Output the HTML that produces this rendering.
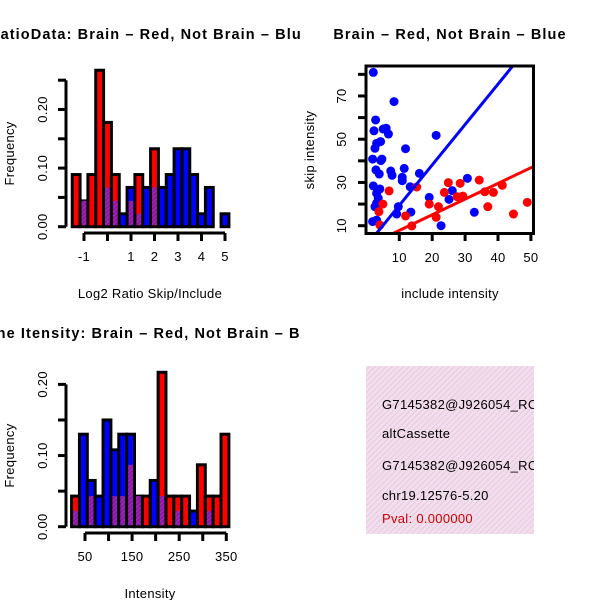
<!DOCTYPE html>
<html><head><meta charset="utf-8"><style>
html,body{margin:0;padding:0;background:#fff}
svg{display:block;font-family:"Liberation Sans",sans-serif}
svg text{letter-spacing:0.3px}
svg text.ttl{letter-spacing:1.1px}
</style></head><body>
<svg id="chart" width="600" height="600" viewBox="0 0 600 600" xmlns="http://www.w3.org/2000/svg">
<defs>
<pattern id="hatch" width="3" height="3" patternUnits="userSpaceOnUse" patternTransform="rotate(45)">
<rect width="3" height="3" fill="#a020c0"/><rect width="1.2" height="3" fill="#7a1a8a"/>
</pattern>
<pattern id="pinkhatch" width="4" height="4" patternUnits="userSpaceOnUse" patternTransform="rotate(45)">
<rect width="4" height="4" fill="#f6dcf0"/><rect width="1" height="4" fill="#dcd0d4"/>
</pattern>
<clipPath id="clipTL"><rect x="0" y="0" width="300" height="300"/></clipPath>
<clipPath id="clipBL"><rect x="0" y="300" width="300" height="300"/></clipPath>
<clipPath id="clipSc"><rect x="366" y="66" width="168" height="168"/></clipPath>
<clipPath id="clipBox"><rect x="366" y="366" width="168" height="168"/></clipPath>
</defs>
</svg>
<script>
// ---- Data: top-left histogram (Log2 ratio), bins of width 1/3 starting at -1.5
const ratioBinStart = -1.5;
const ratioBinWidth = 1/3;
const ratioRed  = [0.089,0.044,0.089,0.267,0.178,0.089,0,0.044,0.089,0,0.133,0,0,0,0,0,0,0,0,0];
const ratioBlue = [0,0.044,0,0,0.067,0.044,0.022,0.067,0.022,0.067,0.067,0.067,0.089,0.133,0.133,0.089,0.022,0.067,0,0.022];
const ratioXTicks = [-1,0,1,2,3,4,5];
const ratioXLabels = ["-1","","1","2","3","4","5"];
const ratioYTicks = [0,0.05,0.10,0.15,0.20,0.25];
const ratioYLabels = ["0.00","","0.10","","0.20",""];
// ---- Data: bottom-left histogram (Intensity)
const intBinStart = 21.5;
const intBinWidth = 16.7;
const intRed  = [0.043,0,0.043,0,0,0.043,0.043,0.087,0.043,0.043,0,0.217,0.043,0.043,0.043,0,0.087,0.043,0.043,0.13];
const intBlue = [0.022,0.13,0.065,0.043,0.15,0.108,0.13,0.13,0.043,0,0.065,0.043,0,0.022,0,0.022,0,0.022,0,0];
const intXTicks = [50,100,150,200,250,300,350];
const intXLabels = ["50","","150","","250","","350"];
const intYTicks = [0,0.05,0.10,0.15,0.20];
const intYLabels = ["0.00","","0.10","","0.20"];
// ---- Data: scatter
const blueX = [2.1,8.4,2.8,2.3,5.1,6.0,6.7,4.3,3.1,2.6,21.2,11.9,1.9,4.7,4.4,2.9,3.9,7.4,7.8,11.5,10.9,10.9,16.1,2.1,4.1,3.1,3.6,3.1,2.6,4.1,13.3,30.7,26.1,25.1,19.1,9.7,9.2,13.5,32.8,22.7,1.9,3.1];
const blueY = [80.9,67.4,58.9,53.9,54.7,55.1,52.4,48.9,48.1,45.8,51.8,45.6,40.8,40.8,40.1,35.8,33.9,35.3,33.3,36.5,32.4,30.8,34.2,28.4,27.0,25.0,22.7,20.4,18.8,20.0,28.0,31.9,26.2,22.2,23.1,18.8,15.4,16.3,16.2,10.0,11.9,12.6];
const redX = [6.9,15.3,24.9,28.5,34.3,23.7,27.6,29.3,36.0,38.6,41.3,5.0,3.8,19.1,21.9,36.9,11.9,21.2,48.9,44.7,13.8,4.1];
const redY = [26.1,27.9,29.9,29.6,31.1,25.4,23.4,23.7,25.7,25.4,28.7,20.0,16.5,20.0,18.8,18.8,14.5,13.9,20.8,15.4,9.9,10.3];
const blueFit = [0.7,1.87];  // intercept, slope
const redFit = [0.56,0.725];
const scXTicks = [10,20,30,40,50];
const scYTicks = [10,20,30,40,50,60,70,80];
const scYLabels = ["10","","30","","50","","70",""];

const svg = document.getElementById('chart');
const NS = 'http://www.w3.org/2000/svg';
function mk(tag, attrs, parent){const e=document.createElementNS(NS,tag);for(const k in attrs)e.setAttribute(k,attrs[k]);(parent||svg).appendChild(e);return e;}
function txt(s, attrs, parent){const e=mk('text',attrs,parent);e.textContent=s;return e;}

function histogram(cfg){
  const g = mk('g',{'clip-path':cfg.clip});
  
  
  const sx = v => cfg.x0 + (v - cfg.xv0) * cfg.xs;
  const sy = v => cfg.y0 - v * cfg.ys;
  const t = txt(cfg.title,{x:150,y:cfg.titleY,'text-anchor':'middle','font-size':'14.5','font-weight':'bold','class':'ttl'},g);
  
  
  for(let i=0;i<cfg.red.length;i++){
    const a = cfg.binStart + i*cfg.binWidth, b = a + cfg.binWidth;
    const r = cfg.red[i], bl = cfg.blue[i];
    const big = Math.max(r,bl), small = Math.min(r,bl);
    if(big<=0) continue;
    const bigCol = r>=bl ? '#ff0000' : '#0000ff';
    const bar = mk('rect',{x:sx(a),y:sy(big),width:sx(b)-sx(a),height:sy(0)-sy(big),fill:bigCol,stroke:'#000','stroke-width':3},g);
    
    
    if(small>0){
      const ov = mk('rect',{x:sx(a)+1.5,y:sy(small),width:sx(b)-sx(a)-3,height:sy(0)-sy(small)-1.5,fill:'url(#hatch)'},g);
      
      
    }
  }
  const yt = cfg.yTicks;
  mk('line',{x1:cfg.yAxisX,x2:cfg.yAxisX,y1:sy(yt[0]),y2:sy(yt[yt.length-1]),stroke:'#000','stroke-width':3},g);
  yt.forEach((v,i)=>{
    mk('line',{x1:cfg.yAxisX-8,x2:cfg.yAxisX,y1:sy(v),y2:sy(v),stroke:'#000','stroke-width':3},g);
    if(cfg.yLabels[i]) txt(cfg.yLabels[i],{x:0,y:0,'text-anchor':'middle','font-size':'13',transform:`translate(${cfg.yAxisX-19},${sy(v)}) rotate(-90)`},g);
  });
  const xt = cfg.xTicks;
  mk('line',{x1:sx(xt[0]),x2:sx(xt[xt.length-1]),y1:cfg.xAxisY,y2:cfg.xAxisY,stroke:'#000','stroke-width':3},g);
  xt.forEach((v,i)=>{
    mk('line',{x1:sx(v),x2:sx(v),y1:cfg.xAxisY,y2:cfg.xAxisY+8,stroke:'#000','stroke-width':3},g);
    if(cfg.xLabels[i]) txt(cfg.xLabels[i],{x:sx(v),y:cfg.xAxisY+28,'text-anchor':'middle','font-size':'13'},g);
  });
  const xl = txt(cfg.xTitle,{x:150,y:cfg.xAxisY+65,'text-anchor':'middle','font-size':'13'},g);
  
  
  const yl = txt('Frequency',{x:0,y:0,'text-anchor':'middle','font-size':'13',transform:`translate(14,${(sy(yt[0])+sy(yt[yt.length-1]))/2}) rotate(-90)`},g);
  
  
}

histogram({name:'ratio-histogram',clip:'url(#clipTL)',title:'RatioData: Brain \u2013 Red, Not Brain \u2013 Blue',titleY:39,
  red:ratioRed,blue:ratioBlue,binStart:ratioBinStart,binWidth:ratioBinWidth,
  x0:84,xv0:-1,xs:23.5,y0:226.7,ys:586,yAxisX:66,xAxisY:233,
  xTicks:ratioXTicks,xLabels:ratioXLabels,yTicks:ratioYTicks,yLabels:ratioYLabels,xTitle:'Log2 Ratio Skip/Include'});
histogram({name:'intensity-histogram',clip:'url(#clipBL)',title:'Gene Itensity: Brain \u2013 Red, Not Brain \u2013 Blue',titleY:338,
  red:intRed,blue:intBlue,binStart:intBinStart,binWidth:intBinWidth,
  x0:85,xv0:50,xs:23.55/50,y0:526.7,ys:711.5,yAxisX:66,xAxisY:533,
  xTicks:intXTicks,xLabels:intXLabels,yTicks:intYTicks,yLabels:intYLabels,xTitle:'Intensity'});

(function(){
  const g = mk('g',{});
  
  
  const sx = v => 366.4 + v*3.29;
  const sy = v => 225.7 - (v-10)*2.162;
  const t = txt('Brain \u2013 Red, Not Brain \u2013 Blue',{x:450,y:39,'text-anchor':'middle','font-size':'14.5','font-weight':'bold','class':'ttl'},g);
  
  
  const pts = mk('g',{'clip-path':'url(#clipSc)'},g);
  blueX.forEach((x,i)=>{
    const c = mk('circle',{cx:sx(x),cy:sy(blueY[i]),r:4.5,fill:'#0000ff'},pts);
    
    
  });
  redX.forEach((x,i)=>{
    const c = mk('circle',{cx:sx(x),cy:sy(redY[i]),r:4.5,fill:'#ff0000'},pts);
    
    
  });
  [[blueFit,'#0000ff','fit-line-not-brain'],[redFit,'#ff0000','fit-line-brain']].forEach(([f,col,nm])=>{
    const l = mk('line',{x1:sx(-2),y1:sy(f[0]+f[1]*-2),x2:sx(60),y2:sy(f[0]+f[1]*60),stroke:col,'stroke-width':3},pts);
    
    
  });
  mk('rect',{x:366,y:66,width:167.5,height:167.5,fill:'none',stroke:'#000','stroke-width':3},g);
  scXTicks.forEach(v=>{
    mk('line',{x1:sx(v),x2:sx(v),y1:233.5,y2:241,stroke:'#000','stroke-width':3},g);
    txt(String(v),{x:sx(v),y:262,'text-anchor':'middle','font-size':'13'},g);
  });
  scYTicks.forEach((v,i)=>{
    mk('line',{x1:358,x2:366,y1:sy(v),y2:sy(v),stroke:'#000','stroke-width':3},g);
    if(scYLabels[i]) txt(scYLabels[i],{x:0,y:0,'text-anchor':'middle','font-size':'13',transform:`translate(346,${sy(v)}) rotate(-90)`},g);
  });
  const xl = txt('include intensity',{x:450,y:298,'text-anchor':'middle','font-size':'13'},g);
  
  
  const yl = txt('skip intensity',{x:0,y:0,'text-anchor':'middle','font-size':'13',transform:'translate(314,150) rotate(-90)'},g);
  
  
})();

(function(){
  const g = mk('g',{'clip-path':'url(#clipBox)'});
  
  
  mk('rect',{x:366,y:366,width:168,height:168,fill:'url(#pinkhatch)'},g);
  const lines = [['G7145382@J926054_RC',409,'#000'],['altCassette',438,'#000'],['G7145382@J926054_RC',470,'#000'],['chr19.12576-5.20',500,'#000'],['Pval: 0.000000',523,'#cc0000']];
  lines.forEach(([s,y,c])=>{
    const t = txt(s,{x:382,y:y,'font-size':'13',fill:c},g);
    
    
  });
})();
</script>
</body></html>
